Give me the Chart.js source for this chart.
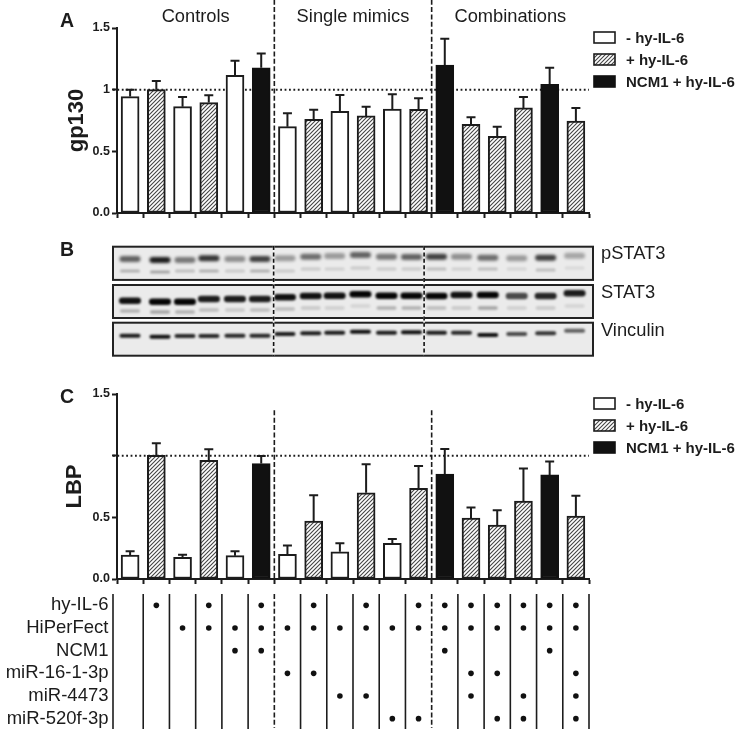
<!DOCTYPE html>
<html>
<head>
<meta charset="utf-8">
<title>gp130 and LBP</title>
<script src="https://cdn.jsdelivr.net/npm/chart.js@4/dist/chart.umd.min.js"></script>
<style>
    html, body { margin: 0; padding: 0; background: #fff; }
    #page { position: relative; width: 736px; height: 729px; overflow: hidden; }
    canvas { position: absolute; left: 0; }
</style>
</head>
<body>
<div id="page">
    <canvas id="panelA" width="736" height="235" style="top:0"></canvas>
    <canvas id="panelB" width="736" height="130" style="top:235px"></canvas>
    <canvas id="panelC" width="736" height="210" style="top:380px"></canvas>
    <canvas id="panelM" width="736" height="144" style="top:590px"></canvas>
</div>
<script>
const samples = ['1','2','3','4','5','6','7','8','9','10','11','12','13','14','15','16','17','18'];
const treatment = ['minus','plus','minus','plus','minus','ncm','minus','plus','minus','plus','minus','plus','ncm','plus','plus','plus','ncm','plus'];
const legendNames = ['- hy-IL-6', '+ hy-IL-6', 'NCM1 + hy-IL-6'];
const groupNames = ['Controls', 'Single mimics', 'Combinations'];

const gp130 = [0.944,1.0,0.862,0.895,1.117,1.177,0.70,0.76,0.825,0.787,0.843,0.84,1.199,0.719,0.621,0.852,1.044,0.746];
const gp130Upper = [1.0,1.07,0.94,0.955,1.234,1.294,0.808,0.838,0.957,0.862,0.963,0.93,1.413,0.776,0.70,0.941,1.177,0.852];
const gp130Ticks = [0, 0.5, 1, 1.5];
const gp130TickLabels = ['0.0', '0.5', '1', '1.5'];

const lbp = [0.194,1.003,0.175,0.963,0.189,0.936,0.20,0.469,0.221,0.699,0.289,0.736,0.85,0.494,0.437,0.631,0.844,0.51];
const lbpUpper = [0.224,1.10,0.197,1.052,0.224,0.998,0.272,0.68,0.289,0.931,0.324,0.917,1.055,0.58,0.558,0.896,0.952,0.674];
const lbpTicks = [0, 0.5, 1, 1.5];
const lbpTickLabels = ['0.0', '0.5', '', '1.5'];

// blot: lane position, band position along the gel, band darkness 0-1
const lanePos = [0,1.14,2.09,3.0,3.99,4.94,5.89,6.87,7.78,8.76,9.75,10.7,11.65,12.6,13.6,14.7,15.8,16.9];
const pStat3Pos = [13,14,14,12.3,13,13,12.3,10.7,10,9,10.7,11,10.7,10.7,11.7,12.3,11.7,9.7];
const pStat3Dark = [0.6,0.9,0.5,0.8,0.4,0.75,0.35,0.55,0.35,0.6,0.5,0.6,0.75,0.4,0.55,0.35,0.75,0.3];
const pStat3LowPos = [25,26,25,25,25,25,25,23,23,22,23,23,23,23,23,23,24,22];
const pStat3LowDark = [0.25,0.3,0.2,0.25,0.15,0.25,0.15,0.15,0.12,0.15,0.15,0.15,0.2,0.12,0.2,0.1,0.2,0.08];
const stat3Pos = [54.7,55.7,55.7,53,53,53,51.3,50,49.7,48.3,49.7,49.7,50,49,49,50,50,47.3];
const stat3Dark = [0.95,1,1,0.9,0.9,0.9,0.95,0.95,0.95,1,1,1,1,0.95,1,0.7,0.85,0.9];
const stat3LowPos = [65,66,66,64,64,64,63,62,62,60,62,62,62,62,62,62,62,60];
const stat3LowDark = [0.25,0.3,0.25,0.2,0.15,0.2,0.2,0.15,0.12,0.1,0.25,0.25,0.2,0.15,0.3,0.12,0.15,0.1];
const vinculinPos = [89.7,90.7,90,90,89.7,89.7,88,87.3,86.7,85.7,86.7,86.3,86.7,86.7,89,88,87.3,84.7];
const vinculinDark = [0.9,0.95,0.85,0.85,0.85,0.85,0.9,0.9,0.9,0.95,0.9,0.95,0.9,0.85,0.95,0.7,0.8,0.6];
const blotNames = ['pSTAT3', 'STAT3', 'Vinculin'];

// which samples got what
const rowNames = ['hy-IL-6', 'HiPerFect', 'NCM1', 'miR-16-1-3p', 'miR-4473', 'miR-520f-3p'];
const hyIL6Samples = [1,3,5,7,9,11,12,13,14,15,16,17];
const hiPerFectSamples = [2,3,4,5,6,7,8,9,10,11,12,13,14,15,16,17];
const ncm1Samples = [4,5,12,16];
const mir16Samples = [6,7,13,14,17];
const mir4473Samples = [8,9,13,15,17];
const mir520Samples = [10,11,14,15,17];

const INK = '#1c1c1c';
const FONT = '"Liberation Sans", Arial, sans-serif';

function hatchPattern() {
    const tile = document.createElement('canvas');
    tile.width = tile.height = 4;
    const c = tile.getContext('2d');
    c.fillStyle = '#fff';
    c.fillRect(0, 0, 4, 4);
    c.strokeStyle = '#444';
    c.lineWidth = 1.1;
    [[-1, 1, 1, -1], [0, 4, 4, 0], [3, 5, 5, 3]].forEach(l => {
        c.beginPath();
        c.moveTo(l[0], l[1]);
        c.lineTo(l[2], l[3]);
        c.stroke();
    });
    return c.createPattern(tile, 'repeat');
}

const hatch = hatchPattern();
const fills = { minus: '#fff', plus: hatch, ncm: '#111' };

function drawText(ctx, text, x, y, font, align) {
    ctx.font = font;
    ctx.fillStyle = INK;
    ctx.textAlign = align || 'left';
    ctx.textBaseline = 'alphabetic';
    ctx.fillText(text, x, y);
}

function vline(ctx, x, y0, y1, width, dash, color) {
    ctx.save();
    ctx.strokeStyle = color || INK;
    ctx.lineWidth = width;
    ctx.setLineDash(dash || []);
    ctx.beginPath();
    ctx.moveTo(x, y0);
    ctx.lineTo(x, y1);
    ctx.stroke();
    ctx.restore();
}

// dotted reference line and whiskers go under the bars
const underBars = {
    id: 'underBars',
    beforeDatasetsDraw(chart, args, opts) {
        const { ctx, scales: { x, y } } = chart;
        ctx.save();
        ctx.strokeStyle = INK;
        ctx.lineWidth = 2;
        ctx.setLineDash([1.8, 2.6]);
        ctx.beginPath();
        ctx.moveTo(x.left - 4, y.getPixelForValue(1));
        ctx.lineTo(x.right, y.getPixelForValue(1));
        ctx.stroke();
        ctx.setLineDash([]);
        opts.upper.forEach((v, i) => {
            const px = x.getPixelForValue(i);
            const top = y.getPixelForValue(v);
            ctx.beginPath();
            ctx.moveTo(px, y.getPixelForValue(opts.values[i]));
            ctx.lineTo(px, top);
            ctx.moveTo(px - 4.5, top);
            ctx.lineTo(px + 4.5, top);
            ctx.stroke();
        });
        ctx.restore();
    }
};

const overBars = {
    id: 'overBars',
    afterDatasetsDraw(chart, args, opts) {
        const { ctx, scales: { x, y } } = chart;
        [5.5, 11.5].forEach(v => {
            vline(ctx, x.getPixelForValue(v), y.getPixelForValue(opts.dashTop), y.bottom + 1, 1.6, [5, 2.4]);
        });
        drawText(ctx, opts.letter, 60, opts.letterY, 'bold 19.5px ' + FONT);
        if (opts.groups) {
            opts.groups.forEach((name, i) => {
                drawText(ctx, name, x.getPixelForValue(2.5 + i * 6), opts.groupY, '18.3px ' + FONT, 'center');
            });
        }
        // legend swatches sit next to the plot
        [fills.minus, fills.plus, fills.ncm].forEach((fill, i) => {
            const top = y.top + 4 + i * 22;
            ctx.fillStyle = fill;
            ctx.fillRect(x.right + 5, top, 21, 11);
            ctx.strokeStyle = i === 2 ? '#111' : INK;
            ctx.lineWidth = 1.6;
            ctx.strokeRect(x.right + 5, top, 21, 11);
            drawText(ctx, legendNames[i], x.right + 37, top + 10.5, 'bold 15px ' + FONT);
        });
    }
};

function barChart(id, title, values, upper, ticks, tickLabels, extra) {
    const canvas = document.getElementById(id);
    const keys = ['minus', 'plus', 'ncm'];
    return new Chart(canvas, {
        type: 'bar',
        data: {
            labels: samples,
            datasets: keys.map((key, k) => ({
                label: legendNames[k],
                data: values.map((v, i) => treatment[i] === key ? v : null),
                backgroundColor: fills[key],
                borderColor: key === 'ncm' ? '#111' : INK,
                borderWidth: 2,
                borderSkipped: false,
                grouped: false,
                barThickness: 18
            }))
        },
        options: {
            responsive: false,
            animation: false,
            events: [],
            layout: { padding: { top: extra.top, right: 147, left: 0, bottom: 0 } },
            scales: {
                x: {
                    offset: true,
                    afterFit: s => { s.height = canvas.height - extra.bottom; },
                    border: { color: INK, width: 2 },
                    grid: { drawOnChartArea: false, tickLength: 5, tickWidth: 2, tickColor: INK },
                    ticks: { display: false }
                },
                y: {
                    min: 0,
                    max: 1.5,
                    afterFit: s => { s.width = 117; },
                    afterBuildTicks: s => { s.ticks = ticks.map(v => ({ value: v })); },
                    border: { color: INK, width: 2 },
                    grid: { drawOnChartArea: false, tickLength: 5, tickWidth: 2, tickColor: INK },
                    ticks: {
                        padding: 2,
                        autoSkip: false,
                        color: INK,
                        font: { family: FONT, size: 12.5, weight: 'bold' },
                        callback: (v, i) => tickLabels[i]
                    },
                    title: {
                        display: true,
                        text: title,
                        color: INK,
                        font: { family: FONT, size: 22, weight: 'bold' },
                        padding: { top: extra.titleTop, bottom: 0 }
                    }
                }
            },
            plugins: {
                legend: { display: false },
                tooltip: { enabled: false },
                underBars: { values: values, upper: upper },
                overBars: extra
            }
        },
        plugins: [underBars, overBars]
    });
}

barChart('panelA', 'gp130', gp130, gp130Upper, gp130Ticks, gp130TickLabels, {
    top: 28, bottom: 213, titleTop: 64, dashTop: 1.73,
    letter: 'A', letterY: 27, groups: groupNames, groupY: 22
});

barChart('panelC', 'LBP', lbp, lbpUpper, lbpTicks, lbpTickLabels, {
    top: 14, bottom: 199, titleTop: 62, dashTop: 1.368,
    letter: 'C', letterY: 23
});

const blotFrames = [[0.7, 33.9], [39, 72], [76.7, 109.7]];
const blotNameY = [17, 56, 94];

const blotDraw = {
    id: 'blotDraw',
    beforeDatasetsDraw(chart) {
        const { ctx, scales: { x, y } } = chart;
        ctx.save();
        blotFrames.forEach(f => {
            ctx.fillStyle = '#ebebeb';
            ctx.fillRect(x.left, y.getPixelForValue(f[0]), x.right - x.left, y.getPixelForValue(f[1]) - y.getPixelForValue(f[0]));
        });
        chart.data.datasets.forEach((ds, d) => {
            ctx.filter = 'blur(' + ds.blur + 'px)';
            ctx.fillStyle = '#050505';
            chart.getDatasetMeta(d).data.forEach((pt, i) => {
                ctx.globalAlpha = ds.dark[i];
                ctx.beginPath();
                ctx.roundRect(pt.x - ds.bandW, pt.y - ds.bandH, ds.bandW * 2, ds.bandH * 2, ds.bandH);
                ctx.fill();
            });
        });
        ctx.restore();
    },
    afterDatasetsDraw(chart) {
        const { ctx, scales: { x, y } } = chart;
        ctx.strokeStyle = '#222';
        ctx.lineWidth = 2;
        blotFrames.forEach((f, i) => {
            const top = y.getPixelForValue(f[0]);
            const bottom = y.getPixelForValue(f[1]);
            ctx.strokeRect(x.left, top, x.right - x.left, bottom - top);
            drawText(ctx, blotNames[i], x.right + 8, blotNameY[i] + 6.5, '18.3px ' + FONT);
        });
        [5.46, 11.18].forEach(v => {
            const px = x.getPixelForValue(v);
            vline(ctx, px, y.top, y.bottom, 1.6, [], '#f4f4f4');
            vline(ctx, px, y.top, y.bottom, 1.6, [4, 2.4], '#111');
        });
        drawText(ctx, 'B', 60, 21, 'bold 19.5px ' + FONT);
    }
};

function bandSet(label, pos, dark, bandW, bandH, blur) {
    return {
        label: label,
        data: lanePos.map((x, i) => ({ x: x, y: pos[i] })),
        dark: dark,
        bandW: bandW,
        bandH: bandH,
        blur: blur,
        pointRadius: 0
    };
}

new Chart(document.getElementById('panelB'), {
    type: 'scatter',
    data: {
        datasets: [
            bandSet('pSTAT3', pStat3Pos, pStat3Dark, 10.5, 3, 1.8),
            bandSet('pSTAT3 lower', pStat3LowPos, pStat3LowDark, 10, 1.6, 1.2),
            bandSet('STAT3', stat3Pos, stat3Dark, 11, 3.2, 1.3),
            bandSet('STAT3 lower', stat3LowPos, stat3LowDark, 10, 1.8, 1.3),
            bandSet('Vinculin', vinculinPos, vinculinDark, 10.5, 2, 1)
        ]
    },
    options: {
        responsive: false,
        animation: false,
        events: [],
        layout: { padding: { left: 113, right: 143, top: 11, bottom: 9 } },
        scales: {
            x: { type: 'linear', display: false, min: -0.646, max: 17.6 },
            y: { type: 'linear', display: false, min: 0, max: 110, reverse: true }
        },
        plugins: { legend: { display: false }, tooltip: { enabled: false } }
    },
    plugins: [blotDraw]
});

const matrixLines = {
    id: 'matrixLines',
    beforeDatasetsDraw(chart) {
        const { ctx, scales: { x, y } } = chart;
        vline(ctx, x.left - 4, y.top, y.bottom - 1, 1.6);
        samples.forEach((s, i) => {
            const dashed = i === 5 || i === 11;
            const bottom = dashed ? y.bottom - 2 : y.bottom - 1;
            vline(ctx, x.getPixelForValue(i + 0.5), y.top, bottom, 1.6, dashed ? [5, 2.4] : []);
        });
    }
};

function dotRow(rowIndex, columns) {
    return columns.map(c => ({ x: samples[c], y: rowNames[rowIndex] }));
}

new Chart(document.getElementById('panelM'), {
    type: 'scatter',
    data: {
        datasets: [{
            label: 'treatment',
            data: [hyIL6Samples, hiPerFectSamples, ncm1Samples, mir16Samples, mir4473Samples, mir520Samples]
                .flatMap((cols, r) => dotRow(r, cols)),
            backgroundColor: '#111',
            borderWidth: 0,
            pointRadius: 2.8
        }]
    },
    options: {
        responsive: false,
        animation: false,
        events: [],
        layout: { padding: { top: 3.75, right: 147, left: 0, bottom: 0 } },
        scales: {
            x: { type: 'category', labels: samples, offset: true, display: false },
            y: {
                type: 'category',
                labels: rowNames,
                offset: true,
                afterFit: s => { s.width = 117; s.paddingTop = 0; s.paddingBottom = 0; },
                border: { display: false },
                grid: { display: false, drawTicks: false },
                ticks: {
                    padding: 8.5,
                    autoSkip: false,
                    color: INK,
                    font: { family: FONT, size: 18.5 }
                }
            }
        },
        plugins: { legend: { display: false }, tooltip: { enabled: false } }
    },
    plugins: [matrixLines]
});
</script>
</body>
</html>
